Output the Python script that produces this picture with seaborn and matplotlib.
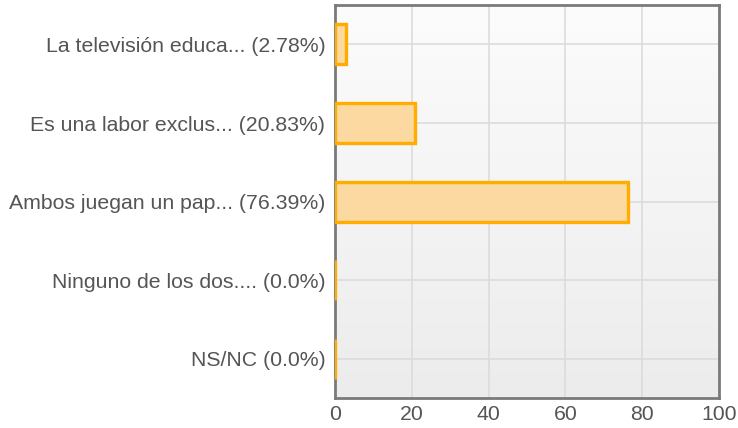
import numpy as np
import pandas as pd
import matplotlib
matplotlib.use("Agg")
import matplotlib.pyplot as plt
from matplotlib.colors import LinearSegmentedColormap
import seaborn as sns

answers = [
    "La televisión educa...",
    "Es una labor exclus...",
    "Ambos juegan un pap...",
    "Ninguno de los dos....",
    "NS/NC",
]
percents = [2.78, 20.83, 76.39, 0.0, 0.0]
x_ticks = [0, 20, 40, 60, 80, 100]

labels = [f"{a} ({p}%)" for a, p in zip(answers, percents)]
df = pd.DataFrame({"label": labels, "pct": percents})

sns.set_theme(style="white")
plt.rcParams["font.family"] = ["Liberation Sans", "DejaVu Sans"]

fig = plt.figure(figsize=(7.38, 4.28), dpi=100)
ax = fig.add_axes([0.454, 0.070, 0.520, 0.918])

# soft vertical gradient behind the plot
grad = LinearSegmentedColormap.from_list("bg", ["#fcfcfc", "#ececec"])
ax.imshow(np.linspace(0, 1, 256).reshape(-1, 1), cmap=grad, aspect="auto",
          extent=(0, 100, 4.5, -0.5), zorder=0)

sns.barplot(data=df, x="pct", y="label", orient="h", ax=ax,
            color="#fcd9a0", edgecolor="#ffae00", linewidth=2.4,
            width=0.51, saturation=1, zorder=3)

ax.set_xlim(0, 100)
ax.set_ylim(4.5, -0.5)
ax.set_xticks(x_ticks)
ax.set_xlabel("")
ax.set_ylabel("")
ax.grid(True, color="#dcdcdc", linewidth=1.2, zorder=1)
ax.set_axisbelow(True)
for s in ax.spines.values():
    s.set_color("#7a7a7a")
    s.set_linewidth(2)
ax.tick_params(axis="both", length=0, labelsize=15.3, colors="#555555")
ax.tick_params(axis="y", pad=7)
ax.tick_params(axis="x", pad=5)

fig.savefig("out.png", dpi=100, facecolor="white")
